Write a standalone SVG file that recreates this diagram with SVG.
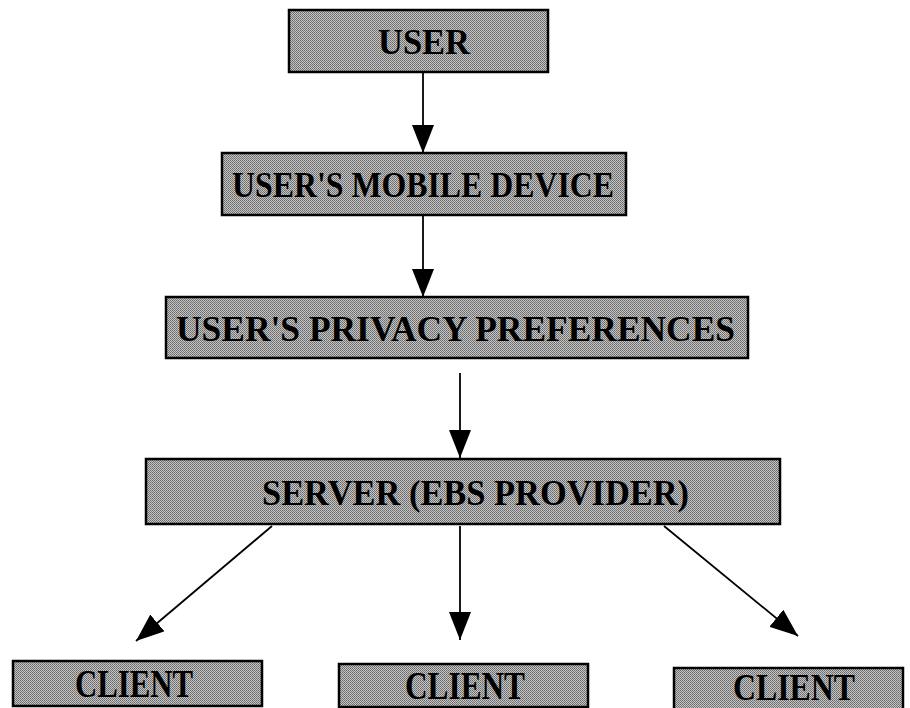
<svg xmlns="http://www.w3.org/2000/svg" width="910" height="708" viewBox="0 0 910 708">
  <defs>
    <pattern id="dither" width="2" height="2" patternUnits="userSpaceOnUse">
      <rect width="2" height="2" fill="#c4c4c4"/>
      <rect width="1" height="1" fill="#6a6a6a"/>
      <rect x="1" y="1" width="1" height="1" fill="#7a7a7a"/>
    </pattern>
    <marker id="arrow" viewBox="0 0 28 22" refX="28" refY="11" markerWidth="28" markerHeight="22" markerUnits="userSpaceOnUse" orient="auto">
      <path d="M0,0 L28,11 L0,22 Z" fill="#000"/>
    </marker>
  </defs>
  <style>
    .box { fill: url(#dither); stroke: #000; stroke-width: 2.5; }
    .lbl { font-family: "Liberation Serif", "Times New Roman", serif; font-weight: bold; fill: #000; }
    .conn { stroke: #000; stroke-width: 1.8; fill: none; marker-end: url(#arrow); }
  </style>
  <rect width="910" height="708" fill="#fff"/>

  <g id="connectors">
    <line class="conn" x1="423" y1="72" x2="423" y2="153"/>
    <line class="conn" x1="423" y1="216" x2="423" y2="297"/>
    <line class="conn" x1="460" y1="373" x2="460" y2="458"/>
    <line class="conn" x1="272" y1="526" x2="136" y2="641"/>
    <line class="conn" x1="460" y1="526" x2="460" y2="640"/>
    <line class="conn" x1="664" y1="526" x2="798" y2="636"/>
  </g>

  <g id="user">
    <rect class="box" x="289" y="10" width="259" height="62"/>
    <text class="lbl" x="378" y="54" font-size="36" textLength="92" lengthAdjust="spacingAndGlyphs">USER</text>
  </g>
  <g id="mobile">
    <rect class="box" x="222" y="153" width="404" height="62"/>
    <text class="lbl" x="232" y="197" font-size="36" textLength="382" lengthAdjust="spacingAndGlyphs">USER'S MOBILE DEVICE</text>
  </g>
  <g id="privacy">
    <rect class="box" x="166" y="297" width="582" height="61"/>
    <text class="lbl" x="176" y="341" font-size="36" textLength="559" lengthAdjust="spacingAndGlyphs">USER'S PRIVACY PREFERENCES</text>
  </g>
  <g id="server">
    <rect class="box" x="146" y="459" width="634" height="65"/>
    <text class="lbl" x="262" y="505" font-size="36" textLength="427" lengthAdjust="spacingAndGlyphs">SERVER (EBS PROVIDER)</text>
  </g>
  <g id="client1">
    <rect class="box" x="13" y="661" width="249" height="45"/>
    <text class="lbl" x="75" y="697" font-size="40" textLength="118" lengthAdjust="spacingAndGlyphs">CLIENT</text>
  </g>
  <g id="client2">
    <rect class="box" x="339" y="664" width="249" height="43"/>
    <text class="lbl" x="405" y="699" font-size="40" textLength="120" lengthAdjust="spacingAndGlyphs">CLIENT</text>
  </g>
  <g id="client3">
    <rect class="box" x="674" y="668" width="229" height="42"/>
    <text class="lbl" x="733" y="700" font-size="38" textLength="122" lengthAdjust="spacingAndGlyphs">CLIENT</text>
  </g>
</svg>
